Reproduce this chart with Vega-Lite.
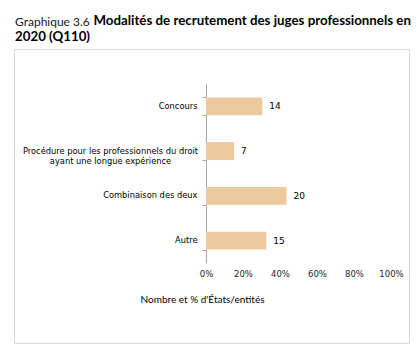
{
  "$schema": "https://vega.github.io/schema/vega-lite/v6.json",
  "width": 395,
  "height": 294,
  "autosize": {"type": "none"},
  "padding": {"left": 14, "top": 49, "right": 10, "bottom": 9},
  "background": "white",
  "title": {
    "text": "Graphique 3.6",
    "subtitle": "2020 (Q110)",
    "anchor": "start",
    "frame": "group",
    "font": "Lato",
    "fontSize": 12,
    "fontWeight": "normal",
    "color": "#1a1a1a",
    "subtitleFont": "Lato",
    "subtitleFontSize": 13.3,
    "subtitleFontWeight": "bold",
    "subtitleColor": "#000000",
    "subtitlePadding": 1,
    "offset": -31,
    "dx": 1
  },
  "data": {
    "values": [
      {"modalite": "Concours", "n": 14, "pct": 0.304},
      {"modalite": "Procédure pour les professionnels du droit ayant une longue expérience", "n": 7, "pct": 0.152},
      {"modalite": "Combinaison des deux", "n": 20, "pct": 0.435},
      {"modalite": "Autre", "n": 15, "pct": 0.326}
    ]
  },
  "encoding": {
    "y": {
      "field": "modalite",
      "type": "nominal",
      "sort": null,
      "scale": {"range": [35, 214], "paddingInner": 0.6, "paddingOuter": 0.3},
      "axis": {
        "orient": "left",
        "offset": -192,
        "title": "Modalités de recrutement des juges professionnels en",
        "titleAngle": 0,
        "titleFont": "Lato",
        "titleFontSize": 13.3,
        "titleFontWeight": "bold",
        "titleColor": "#000000",
        "titleAlign": "left",
        "titleBaseline": "alphabetic",
        "titleX": -113,
        "titleY": -25,
        "domainColor": "#a6a6a6",
        "tickColor": "#a6a6a6",
        "tickSize": 4,
        "tickBand": "extent",
        "labelFont": "DejaVu Sans",
        "labelFontSize": 8.3,
        "labelColor": "#000000",
        "labelLineHeight": 10,
        "labelLimit": 300,
        "labelExpr": "datum.value == 'Procédure pour les professionnels du droit ayant une longue expérience' ? ['Procédure pour les professionnels du droit', 'ayant une longue expérience'] : datum.label",
        "labelAlign": {"condition": {"test": "datum.value == 'Procédure pour les professionnels du droit ayant une longue expérience'", "value": "center"}, "value": "right"},
        "labelPadding": {"condition": {"test": "datum.value == 'Procédure pour les professionnels du droit ayant une longue expérience'", "value": 92}, "value": 5}
      }
    },
    "x": {
      "field": "pct",
      "type": "quantitative",
      "scale": {"domain": [0, 1], "range": [192, 377], "nice": false},
      "axis": {
        "orient": "bottom",
        "offset": -80,
        "format": ".0%",
        "values": [0, 0.2, 0.4, 0.6, 0.8, 1],
        "domain": false,
        "ticks": false,
        "grid": false,
        "labelFlush": false,
        "labelOverlap": false,
        "labelFont": "DejaVu Sans",
        "labelFontSize": 8.5,
        "labelColor": "#262626",
        "labelPadding": 6,
        "title": "Nombre et % d'États/entités",
        "titleFont": "Lato",
        "titleFontSize": 10,
        "titleFontWeight": "normal",
        "titleColor": "#000000",
        "titleX": 188,
        "titleY": 36,
        "titleAlign": "center",
        "titleBaseline": "middle"
      }
    }
  },
  "layer": [
    {"mark": {"type": "bar", "color": "#EDC99E"}},
    {
      "mark": {"type": "text", "align": "left", "baseline": "middle", "dx": 7, "font": "DejaVu Sans", "fontSize": 9, "color": "#000000"},
      "encoding": {"text": {"field": "n", "type": "quantitative"}}
    }
  ],
  "config": {
    "view": {"stroke": "#d9d9d9", "strokeWidth": 1}
  }
}
